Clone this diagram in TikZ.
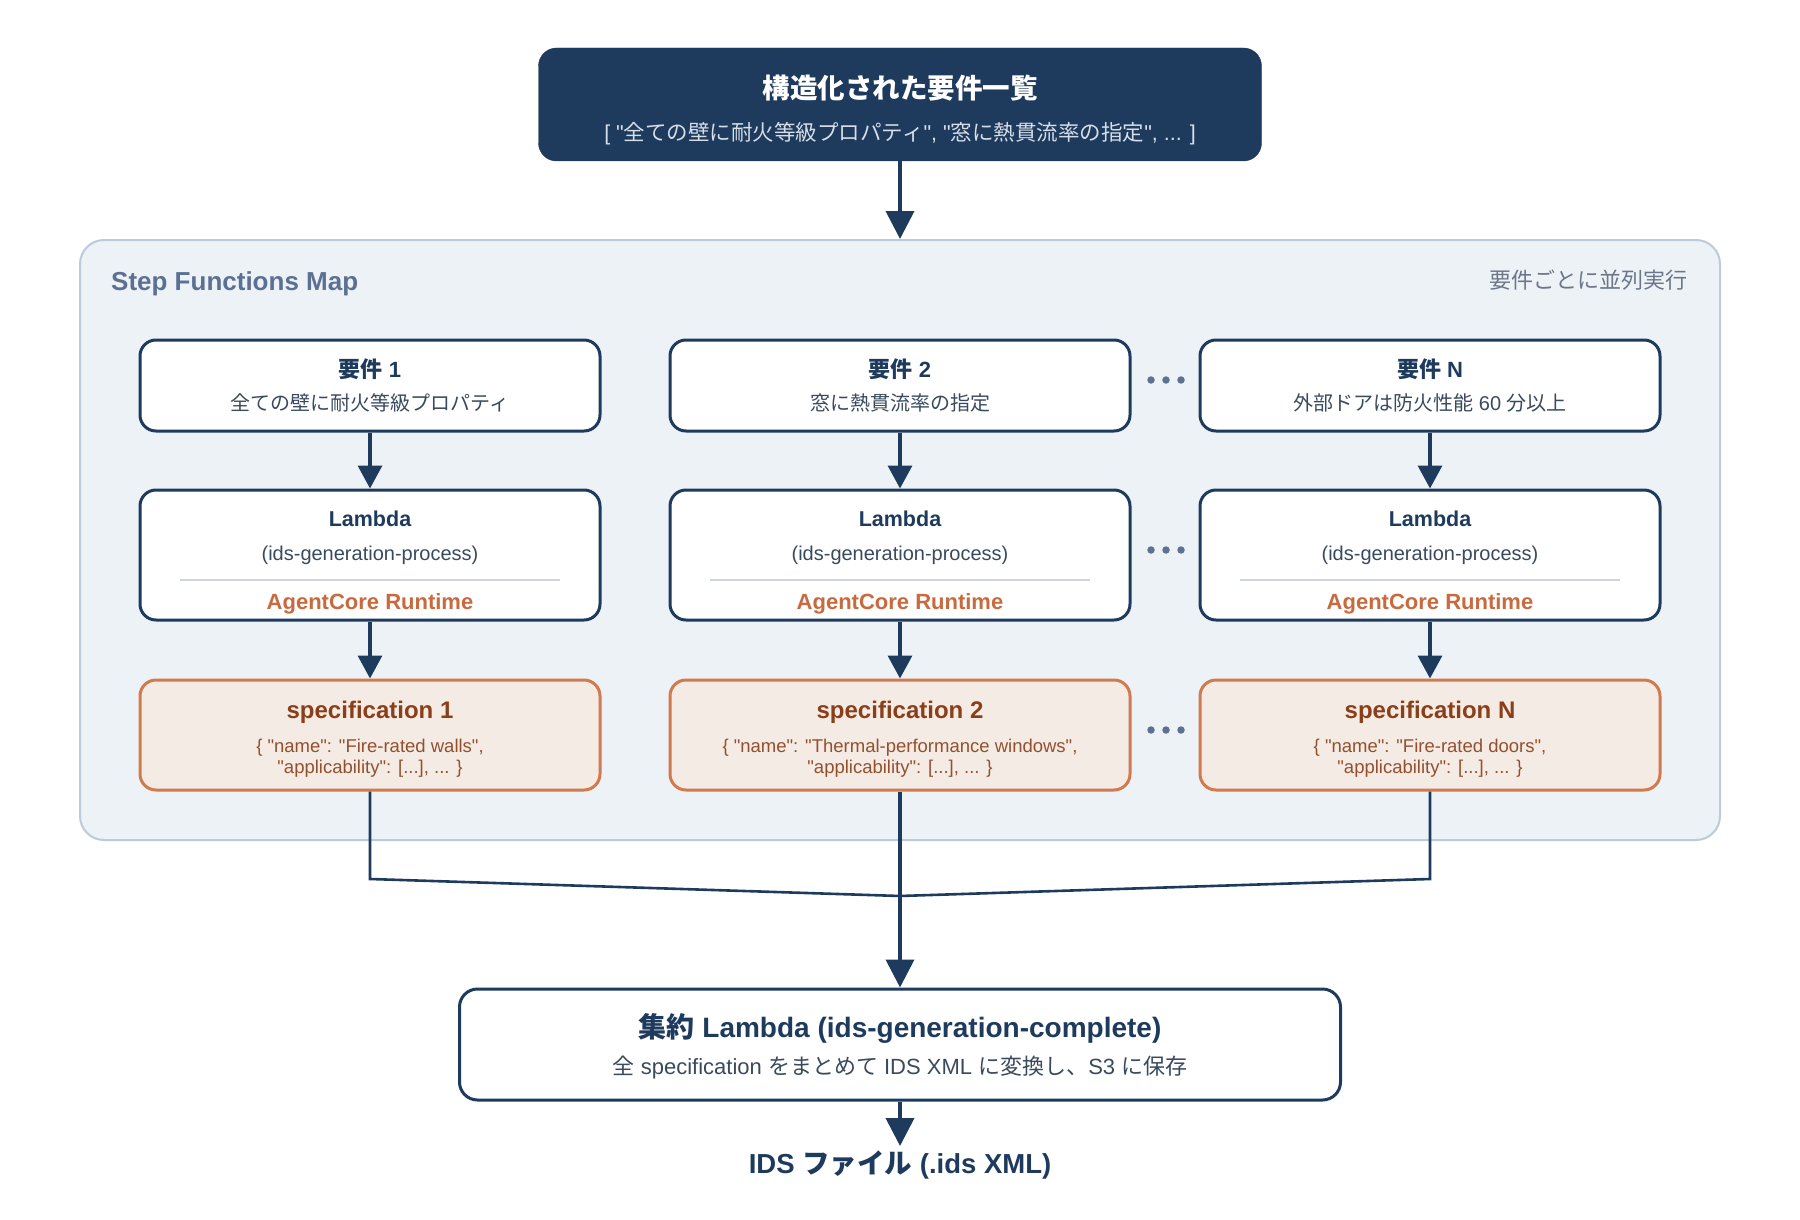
\documentclass[tikz,border=0pt]{standalone}
\usepackage{fontspec}
\setmainfont{Liberation Sans}[Ligatures=TeXOff]
\newfontfamily\jp{Noto Sans CJK JP}[Ligatures=TeXOff]
\usetikzlibrary{arrows.meta,calc}
\definecolor{navy}{HTML}{1E3A5C}
\definecolor{subgray}{HTML}{3A4A5E}
\definecolor{orangetxt}{HTML}{C96A3E}
\definecolor{specfill}{HTML}{F4ECE4}
\definecolor{specdraw}{HTML}{D17A4E}
\definecolor{spectitle}{HTML}{8B3E1A}
\definecolor{specbody}{HTML}{94502E}
\definecolor{mapfill}{HTML}{EDF2F7}
\definecolor{mapdraw}{HTML}{BCCBDC}
\definecolor{maptitle}{HTML}{5B7092}
\definecolor{mapnote}{HTML}{6B7788}
\definecolor{sepline}{HTML}{CDD5DF}
\definecolor{topsub}{HTML}{D6DEE9}
\definecolor{dotcol}{HTML}{5E7191}
\newcommand\fs[1]{\fontsize{#1}{#1}\selectfont}
\tikzset{
  wbox/.style={rectangle, rounded corners=16pt, draw=navy, line width=3pt, fill=white, minimum width=460pt, inner sep=0pt},
  reqbox/.style={wbox, minimum height=91pt},
  lambdabox/.style={wbox, minimum height=130pt},
  specbox/.style={rectangle, rounded corners=16pt, draw=specdraw, line width=3pt, fill=specfill, minimum width=460pt, minimum height=110pt, inner sep=0pt},
  txt/.style={anchor=base, inner sep=0pt},
  flow/.style={draw=navy, line width=3.4pt, -{Triangle[length=23pt,width=24pt]}},
  bigflow/.style={draw=navy, line width=3.8pt, -{Triangle[length=28pt,width=28pt]}},
  merge/.style={draw=navy, line width=2.6pt, line join=miter},
  dotstyle/.style={circle, fill=dotcol, minimum size=7.5pt, inner sep=0pt},
}
\newcommand\reqcol[8]{%
  \node[reqbox] (r#1) at (#2,385.5) {};
  \node[txt, text=navy] (r#1t) at (#2,377) {\fs{22}\bfseries #3};
  \node[txt, text=subgray] (r#1s) at (#2,410) {\fs{20}#4};
  \node[lambdabox] (l#1) at (#2,555) {};
  \node[txt, text=navy] (l#1t) at (#2,526) {\fs{21.5}\bfseries Lambda};
  \node[txt, text=subgray] (l#1s) at (#2,560) {\fs{20}(ids-generation-process)};
  \coordinate (sepL#1) at (#2-190,580);
  \coordinate (sepR#1) at (#2+190,580);
  \draw[sepline, line width=1.5pt] (sepL#1) -- (sepR#1);
  \node[txt, text=orangetxt] (l#1a) at (#2,609) {\fs{22}\bfseries AgentCore Runtime};
  \node[specbox] (s#1) at (#2,735) {};
  \node[txt, text=spectitle] (s#1t) at (#2,718) {\fs{24}\bfseries #5};
  \node[txt, text=specbody] (s#1a) at (#2,752) {\fs{18.5}#6};
  \node[txt, text=specbody] (s#1b) at (#2,773.5) {\fs{18.5}#7};
  \draw[flow] (r#1.south) -- (l#1.north);
  \draw[flow] (l#1.south) -- (s#1.north);
}
\begin{document}
\begin{tikzpicture}[x=1pt,y=-1pt]
\useasboundingbox (0,0) rectangle (1800,1220);
% top box
\node[rectangle, rounded corners=18pt, fill=navy, draw=navy, minimum width=723pt, minimum height=113pt, inner sep=0pt] (top) at (900,104.5) {};
\node[txt, text=white] (topt) at (900,99) {\fs{27.5}\jp\bfseries 構造化された要件一覧};
\node[txt, text=topsub] (tops) at (900,141) {\fs{21.5}[ "{\jp 全ての壁に耐火等級プロパティ}", "{\jp 窓に熱貫流率の指定}", ... ]};
% map container
\node[rectangle, rounded corners=24pt, fill=mapfill, draw=mapdraw, line width=2pt, minimum width=1640pt, minimum height=600pt, inner sep=0pt] (map) at (900,540) {};
\node[anchor=base west, inner sep=0pt, text=maptitle] (mapt) at (111,290) {\fs{26}\bfseries Step Functions Map};
\node[anchor=base east, inner sep=0pt, text=mapnote] (mapn) at (1688,288) {\fs{22}\jp 要件ごとに並列実行};
\draw[bigflow] (top.south) -- (map.north);
% columns
\reqcol{1}{370}{{\jp 要件} 1}{\jp 全ての壁に耐火等級プロパティ}{specification 1}{\{ "name": "Fire-rated walls",}{"applicability": [...], ... \}}{}
\reqcol{2}{900}{{\jp 要件} 2}{\jp 窓に熱貫流率の指定}{specification 2}{\{ "name": "Thermal-performance windows",}{"applicability": [...], ... \}}{}
\reqcol{3}{1430}{{\jp 要件} N}{{\jp 外部ドアは防火性能} 60 {\jp 分以上}}{specification N}{\{ "name": "Fire-rated doors",}{"applicability": [...], ... \}}{}
% dots
\foreach \yy/\nm in {380/a,550/b,730/c}{
  \node[dotstyle] (d\nm1) at (1151,\yy) {};
  \node[dotstyle] (d\nm2) at (1166,\yy) {};
  \node[dotstyle] (d\nm3) at (1181,\yy) {};
}
% merge
\coordinate (c1) at (370,879);
\coordinate (c3) at (1430,879);
\coordinate (j) at (900,896);
\node[rectangle, rounded corners=18pt, draw=navy, line width=3pt, fill=white, minimum width=881pt, minimum height=111pt, inner sep=0pt] (agg) at (900,1044.5) {};
\draw[merge] (s1.south) -- (c1) -- (j);
\draw[merge] (s3.south) -- (c3) -- (j);
\draw[bigflow] (s2.south) -- (agg.north);
\node[txt, text=navy] (aggt) at (900,1037) {\fs{28}\bfseries {\jp 集約} Lambda (ids-generation-complete)};
\node[txt, text=subgray] (aggs) at (900,1074) {\fs{22}{\jp 全} specification {\jp をまとめて} IDS XML {\jp に変換し、}S3 {\jp に保存}};
\node[anchor=base, inner sep=0pt, text=navy] (out) at (900,1173) {\fs{27.5}\bfseries IDS {\jp ファイル} (.ids XML)};
\coordinate (outtop) at (900,1146);
\draw[bigflow] (agg.south) -- (outtop);
\end{tikzpicture}
\end{document}
